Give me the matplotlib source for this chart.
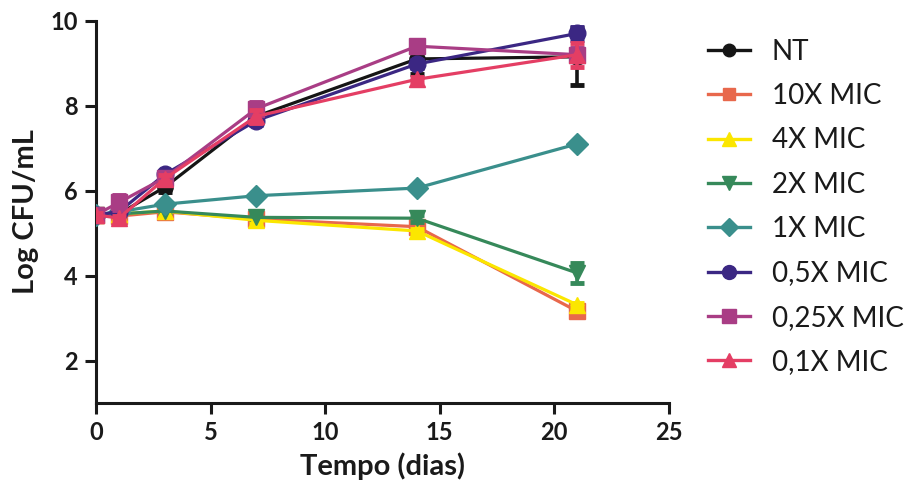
import matplotlib
matplotlib.use("Agg")
import matplotlib.pyplot as plt
from matplotlib.lines import Line2D

plt.rcParams['font.family'] = ['Lato', 'DejaVu Sans']

days = [0, 1, 3, 7, 14, 21]
labels = ["NT", "10X MIC", "4X MIC", "2X MIC", "1X MIC", "0,5X MIC", "0,25X MIC", "0,1X MIC"]
nt = [5.43, 5.45, 6.08, 7.75, 9.10, 9.15]
mic10 = [5.43, 5.40, 5.50, 5.33, 5.15, 3.16]
mic4 = [5.43, 5.45, 5.52, 5.30, 5.05, 3.31]
mic2 = [5.43, 5.45, 5.52, 5.37, 5.35, 4.06]
mic1 = [5.43, 5.50, 5.68, 5.88, 6.06, 7.10]
mic05 = [5.43, 5.50, 6.38, 7.65, 8.98, 9.70]
mic025 = [5.43, 5.72, 6.30, 7.93, 9.40, 9.20]
mic01 = [5.43, 5.35, 6.28, 7.75, 8.62, 9.20]

nt_err = [0.05, 0.05, 0.12, 0.1, 0.36, 0.67]
mic10_err = [0.05, 0.05, 0.05, 0.05, 0.05, 0.08]
mic4_err = [0.05, 0.05, 0.05, 0.05, 0.05, 0.05]
mic2_err = [0.05, 0.05, 0.05, 0.05, 0.08, 0.23]
mic1_err = [0.05, 0.05, 0.05, 0.05, 0.05, 0.05]
mic05_err = [0.05, 0.05, 0.08, 0.1, 0.1, 0.15]
mic025_err = [0.05, 0.18, 0.1, 0.15, 0.05, 0.15]
mic01_err = [0.05, 0.05, 0.08, 0.15, 0.05, 0.28]

series = [nt, mic10, mic4, mic2, mic1, mic05, mic025, mic01]
errs = [nt_err, mic10_err, mic4_err, mic2_err, mic1_err, mic05_err, mic025_err, mic01_err]
colors = ["#151515", "#e8684c", "#fbe600", "#36895a", "#3a8f8c", "#3b2783", "#a93d85", "#e43e64"]
markers = ["o", "s", "^", "v", "D", "o", "s", "^"]
msizes = [11, 11, 12, 12, 11, 12, 12, 12]

fig = plt.figure(figsize=(9.15, 4.93), dpi=100)
ax = fig.add_axes([0.1049, 0.1826, 0.6262, 0.7754])

for i in range(8):
    ax.errorbar(days, series[i], yerr=errs[i], color=colors[i], marker=markers[i],
                ms=msizes[i], lw=2.3, elinewidth=2.6, capsize=5, capthick=3.5,
                label=labels[i], zorder=3 + i * 0.1)

ax.set_xlim(0, 25)
ax.set_ylim(1, 10)
ax.set_xticks([0, 5, 10, 15, 20, 25])
ax.set_yticks([2, 4, 6, 8, 10])
for s in ["top", "right"]:
    ax.spines[s].set_visible(False)
for s in ["left", "bottom"]:
    ax.spines[s].set_linewidth(2.2)
    ax.spines[s].set_color("#1a1a1a")
ax.tick_params(axis="both", width=2.2, length=8, labelsize=17, color="#1a1a1a", pad=5)
for t in ax.get_xticklabels() + ax.get_yticklabels():
    t.set_fontweight("bold")
    t.set_color("#1a1a1a")
ax.set_xlabel("Tempo (dias)", fontsize=21, fontweight="bold", labelpad=6, color="#1a1a1a")
ax.set_ylabel("Log CFU/mL", fontsize=21, fontweight="bold", labelpad=8, color="#1a1a1a")

leg_handles = []
for i in range(8):
    leg_handles.append(Line2D([], [], color=colors[i], marker=markers[i], ms=msizes[i] - 2, lw=2.4))
fig.legend(leg_handles, labels, loc="upper left", bbox_to_anchor=(0.7465, 0.972), frameon=False,
           fontsize=20, handlelength=1.5, labelspacing=0.66, handletextpad=0.8,
           labelcolor="#1a1a1a")

fig.savefig("out.png", dpi=100)
